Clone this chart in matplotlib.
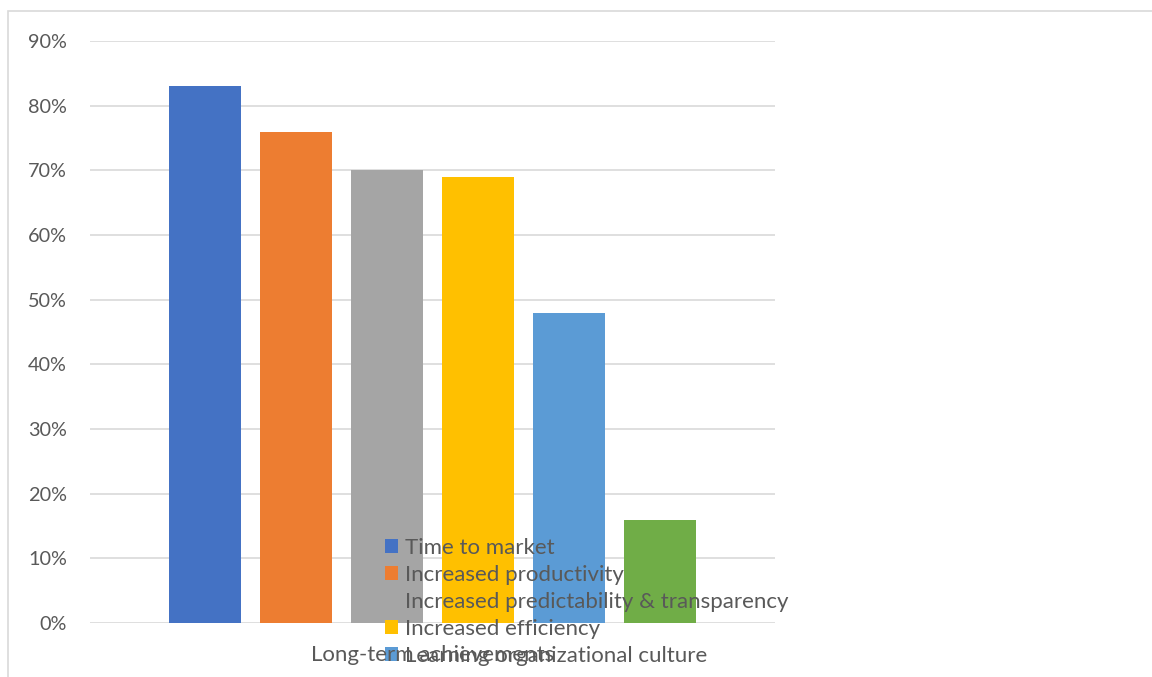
import matplotlib
matplotlib.use("Agg")
import matplotlib.pyplot as plt
from matplotlib.patches import Rectangle
from matplotlib.ticker import PercentFormatter, MultipleLocator

# six series in one category; the sixth (green) legend entry falls off the canvas
series = ["Time to market", "Increased productivity",
          "Increased predictability & transparency", "Increased efficiency",
          "Learning organizational culture", "_nolegend_"]
values = [0.83, 0.76, 0.70, 0.69, 0.48, 0.16]
colors = ["#4472C4", "#ED7D31", "#A5A5A5", "#FFC000", "#5B9BD5", "#70AD47"]
xlabel = "Long-term achievements"

plt.rcParams["font.family"] = ["Lato", "DejaVu Sans"]
W, H = 1152, 677
fig = plt.figure(figsize=(W / 100, H / 100), dpi=100)
fig.patch.set_facecolor("white")

# outer chart-area border (runs off the right/bottom edge)
fig.patches.append(Rectangle((8 / W, -0.05), 1.1, 1 - 11 / H + 0.05, transform=fig.transFigure,
                             fill=False, ec="#d9d9d9", lw=1.2))

ax = fig.add_axes([90 / W, 1 - 623 / H, (775 - 90) / W, (623 - 41) / H])
for i, (s, v, c) in enumerate(zip(series, values, colors)):
    ax.bar(i, v, width=72 / 91, color=c, zorder=3, label=s)

ax.set_xlim(-115 / 91, 570 / 91)
ax.set_ylim(0, 0.9)
ax.yaxis.set_major_locator(MultipleLocator(0.1))
ax.yaxis.set_major_formatter(PercentFormatter(1.0, decimals=0))
ax.grid(axis="y", color="#d9d9d9", lw=1.2, zorder=0)
ax.set_xticks([])
for sp in ax.spines.values():
    sp.set_visible(False)
ax.tick_params(axis="y", length=0, pad=16.5, labelsize=14.3, labelcolor="#595959")

fig.text(433 / W, 1 - 655 / H, xlabel, ha="center", va="center", fontsize=16, color="#595959")

leg = ax.legend(loc="upper left", bbox_to_anchor=(385 / W, 1 - 538 / H),
                bbox_transform=fig.transFigure, frameon=False, fontsize=16,
                handlelength=0.6, handleheight=0.6, handletextpad=0.32,
                labelspacing=0.31, borderpad=0, borderaxespad=0)
for t in leg.get_texts():
    t.set_color("#595959")
leg.set_zorder(5)

fig.savefig("out.png", dpi=100, facecolor="white")
